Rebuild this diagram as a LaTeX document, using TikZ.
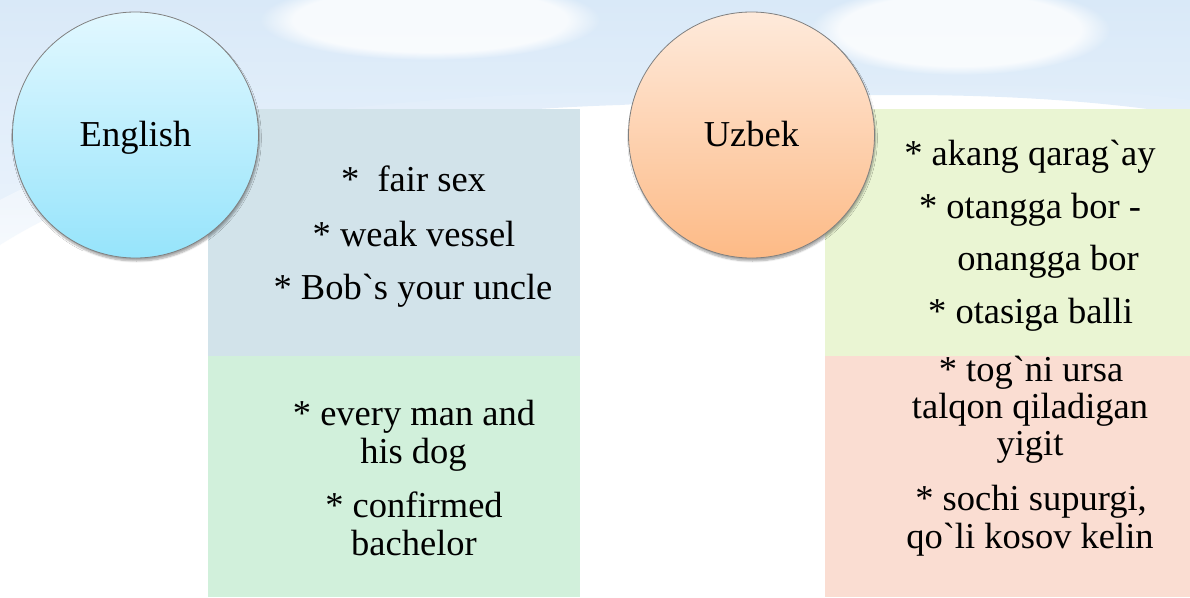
\documentclass[tikz,border=0pt]{standalone}
\usepackage{fontspec}
\setmainfont{Liberation Serif}[Ligatures=TeXOff]
\usetikzlibrary{shadows.blur,fadings}
\definecolor{skyA}{HTML}{D9E9F8}
\definecolor{skyB}{HTML}{EBF3FC}
\definecolor{boxblue}{HTML}{D2E3EA}
\definecolor{boxgreen}{HTML}{D1F0DB}
\definecolor{boxlime}{HTML}{EAF5D3}
\definecolor{boxpink}{HTML}{FADDD2}
\definecolor{engtop}{HTML}{E2F8FF}
\definecolor{engbot}{HTML}{96E4FB}
\definecolor{uzbtop}{HTML}{FEEADB}
\definecolor{uzbbot}{HTML}{FDBA86}
\tikzset{
  panel/.style={anchor=north west, inner sep=0pt, minimum width=372pt},
  bubble/.style={circle, minimum size=246pt, inner sep=0pt, draw=black!50, line width=0.8pt,
    text height=23.4pt, text depth=0pt,
    blur shadow={shadow xshift=1pt, shadow yshift=-3pt, shadow blur steps=6, shadow opacity=35},
    font=\fontsize{36.5}{37.5}\selectfont},
  ln/.style={anchor=base, inner sep=0pt, font=\fontsize{36.5}{37.5}\selectfont},
  cloud/.style={white, path fading=circle with fuzzy edge 20 percent, opacity=0.8}
}
\begin{document}
\begin{tikzpicture}[x=1pt, y=-1pt]
\useasboundingbox (0,0) rectangle (1190,597);
% sky background
\shade[top color=skyA, bottom color=skyB]
  (0,0) -- (1190,0) -- (1190,115)
  .. controls (1000,85) and (800,95) .. (620,105)
  .. controls (400,112) and (150,150) .. (0,245) -- cycle;
\fill[white, opacity=0.6, path fading=north]
  (0,200) .. controls (150,120) and (400,95) .. (620,92)
  .. controls (800,85) and (1000,75) .. (1190,100) -- (1190,130) -- (0,260) -- cycle;
\fill[cloud] (430,20) ellipse (170pt and 40pt);
\fill[cloud] (960,30) ellipse (150pt and 45pt);
% panels
\node[panel, fill=boxblue, minimum height=247pt] (eb1) at (208,108.5) {};
\node[panel, fill=boxgreen, minimum height=241.5pt] (eb2) at (208,355.5) {};
\node[panel, fill=boxlime, minimum height=247pt, minimum width=365pt] (ub1) at (825,108.5) {};
\node[panel, fill=boxpink, minimum height=241.5pt, minimum width=365pt] (ub2) at (825,355.5) {};
% circles
\node[bubble, top color=engtop, bottom color=engbot] (eng) at (135.5,135) {English};
\node[bubble, top color=uzbtop, bottom color=uzbbot] (uzb) at (751.5,135) {Uzbek};
% English texts
\node[ln] (e1) at (413.5,191.7) {*\ \ fair sex};
\node[ln] (e2) at (414,246.7) {* weak vessel};
\node[ln] (e3) at (413,299) {* Bob`s your uncle};
\node[ln] (e4) at (414,425) {* every man and};
\node[ln] (e5) at (413.5,463) {his dog};
\node[ln] (e6) at (414,517) {* confirmed};
\node[ln] (e7) at (414,555) {bachelor};
% Uzbek texts
\node[ln] (u1) at (1030,165) {* akang qarag`ay};
\node[ln] (u2) at (1030,218) {* otangga bor -};
\node[ln] (u3) at (1048,270) {onangga bor};
\node[ln] (u4) at (1030.5,323) {* otasiga balli};
\node[ln] (u5) at (1031,381) {* tog`ni ursa};
\node[ln] (u6) at (1030,418) {talqon qiladigan};
\node[ln] (u7) at (1030,455) {yigit};
\node[ln] (u8) at (1031,510) {* sochi supurgi,};
\node[ln] (u9) at (1030,548) {qo`li kosov kelin};
\end{tikzpicture}
\end{document}
